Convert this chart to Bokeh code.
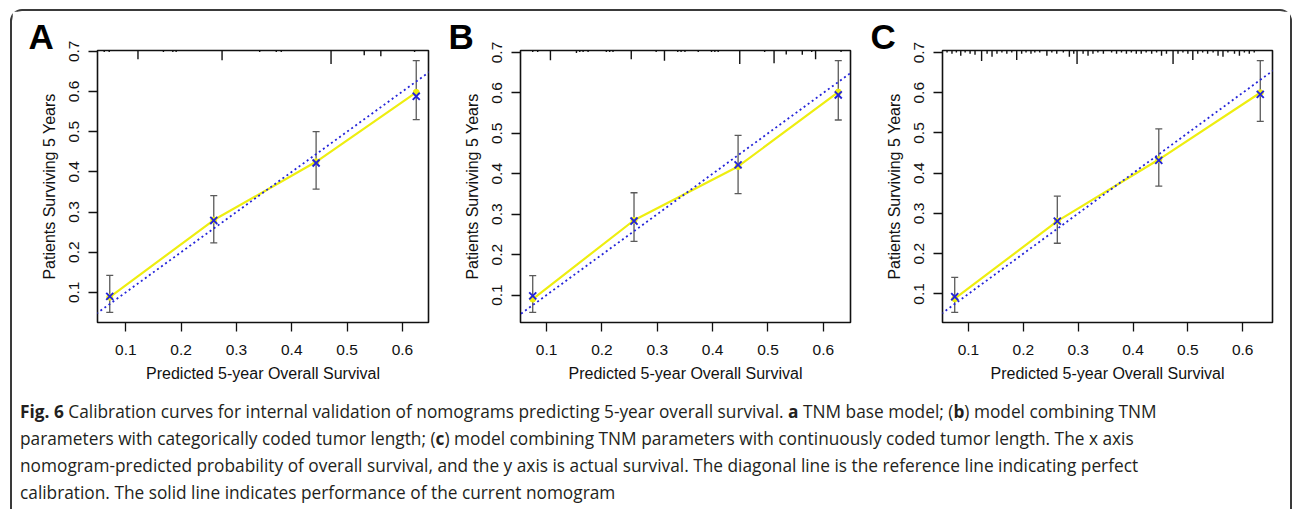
from bokeh.plotting import figure
from bokeh.models import (ColumnDataSource, FixedTicker, Range1d, Slope, Whisker,
                          TeeHead, Title, Div)
from bokeh.layouts import row, column
from bokeh.embed import file_html
from bokeh.resources import INLINE

# ---- data -------------------------------------------------------------
panel_labels = ["A", "B", "C"]
x_ticks = [0.1, 0.2, 0.3, 0.4, 0.5, 0.6]
y_ticks = [0.1, 0.2, 0.3, 0.4, 0.5, 0.6, 0.7]
x_title = "Predicted 5-year Overall Survival"
y_title = "Patients Surviving 5 Years"

# mean predicted survival per risk group
pred_a = [0.071, 0.259, 0.444, 0.625]
pred_b = [0.075, 0.258, 0.446, 0.627]
pred_c = [0.075, 0.262, 0.447, 0.632]

# apparent (observed) survival, drawn as the solid line
obs_a = [0.088, 0.280, 0.425, 0.598]
obs_b = [0.090, 0.285, 0.418, 0.602]
obs_c = [0.088, 0.281, 0.434, 0.600]

# bias-corrected estimates, drawn as crosses
corr_a = [0.090, 0.279, 0.422, 0.588]
corr_b = [0.098, 0.283, 0.422, 0.595]
corr_c = [0.093, 0.281, 0.432, 0.596]

# 95% confidence limits
lo_a = [0.050, 0.223, 0.357, 0.530]
hi_a = [0.142, 0.341, 0.500, 0.677]
lo_b = [0.057, 0.233, 0.351, 0.533]
hi_b = [0.148, 0.353, 0.495, 0.680]
lo_c = [0.054, 0.226, 0.368, 0.529]
hi_c = [0.141, 0.343, 0.510, 0.680]

# spike histogram of predicted probabilities (relative frequency)
spike_x_a = [0.061, 0.070, 0.122, 0.168, 0.185, 0.191, 0.274, 0.342, 0.372,
             0.381, 0.471, 0.531, 0.561, 0.622]
spike_n_a = [1.5, 1.5, 9, 1.5, 1.5, 1.5, 10, 1.5, 1.5, 1.5, 14, 5, 6, 1.5]

spike_x_b = [0.075, 0.084, 0.107, 0.154, 0.160, 0.166, 0.175, 0.208, 0.214,
             0.220, 0.253, 0.298, 0.313, 0.337, 0.343, 0.350, 0.374, 0.398,
             0.404, 0.410, 0.449, 0.494, 0.511, 0.533, 0.562, 0.579, 0.586,
             0.632]
spike_n_b = [1.5, 1.5, 10, 2.5, 1.5, 1.5, 1.5, 1.5, 1.5, 1.5, 9, 1.5, 10.5,
             1.5, 1.5, 1.5, 1.5, 1.5, 1.5, 1.5, 14, 1.5, 13, 4, 4.5, 1.5, 9,
             1.5]

spike_x_c = [0.061, 0.070, 0.078, 0.086, 0.094, 0.103, 0.112, 0.124, 0.134,
             0.143, 0.152, 0.161, 0.170, 0.179, 0.188, 0.197, 0.205, 0.214,
             0.221, 0.230, 0.243, 0.252, 0.261, 0.273, 0.284, 0.292, 0.298,
             0.309, 0.318, 0.327, 0.336, 0.346, 0.361, 0.370, 0.379, 0.388,
             0.397, 0.406, 0.415, 0.424, 0.434, 0.443, 0.452, 0.461, 0.473,
             0.482, 0.491, 0.500, 0.509, 0.518, 0.527, 0.536, 0.546, 0.555,
             0.564, 0.573, 0.585, 0.594, 0.603, 0.612, 0.621]
spike_n_c = [2, 3, 2, 5, 2, 3, 4, 10, 3, 6, 3, 2, 3, 2, 9, 3, 2, 3, 2, 2, 5,
             2, 3, 2, 6, 3, 13, 3, 5, 3, 2, 3, 2, 3, 2, 3, 2, 3, 3, 2, 3, 2,
             5, 3, 13, 3, 2, 3, 9, 3, 2, 3, 2, 5, 6, 2, 3, 5, 2, 3, 2]

panels = [
    (pred_a, obs_a, corr_a, lo_a, hi_a, spike_x_a, spike_n_a),
    (pred_b, obs_b, corr_b, lo_b, hi_b, spike_x_b, spike_n_b),
    (pred_c, obs_c, corr_c, lo_c, hi_c, spike_x_c, spike_n_c),
]

# ---- styling ------------------------------------------------------------
AX_FONT = "Liberation Sans"
YELLOW = "#eeee10"
BLUE = "#2424d8"
GREY = "#5a5a5a"
FRAME_W = [331, 330, 330]
LEFT_B = [85, 88, 88]
RIGHT_B = [4, 4, 18]
TOP_B, FRAME_H, BOTTOM_B = 39, 272, 76
LETTER_DX = [-69, -72, -72]


def padded(lo, hi, frac=0.04):
    span = hi - lo
    return lo - frac * span, hi + frac * span


def make_panel(i):
    pred, obs, corr, lo, hi, sx, sn = panels[i]
    x0, x1 = padded(min(pred), max(pred))
    y0, y1 = padded(min(lo), max(hi))
    height = TOP_B + FRAME_H + BOTTOM_B

    # panel letter as a left-aligned title shifted left of the frame
    letter = Title(text=panel_labels[i], align="left", offset=LETTER_DX[i],
                   text_font=AX_FONT, text_font_size="35px",
                   text_font_style="bold", text_color="#000000",
                   text_line_height=0.7, standoff=-11,
                   vertical_align="bottom")

    p = figure(width=LEFT_B[i] + FRAME_W[i] + RIGHT_B[i], height=height,
               x_range=Range1d(x0, x1), y_range=Range1d(y0, y1),
               title=letter,
               output_backend="svg", toolbar_location=None, tools="",
               min_border_left=LEFT_B[i], min_border_right=RIGHT_B[i],
               min_border_top=TOP_B, min_border_bottom=BOTTOM_B,
               background_fill_color="white", border_fill_color="white")
    p.grid.visible = False
    p.outline_line_color = "#111111"
    p.outline_line_width = 1.6
    p.outline_line_alpha = 1.0

    # spike histogram hanging from the top of the frame
    top_n = max(sn)
    spike_len = [n / top_n * 0.05 * (y1 - y0) for n in sn]
    p.segment(x0=sx, x1=sx, y0=[y1] * len(sx),
              y1=[y1 - s for s in spike_len],
              line_color="#111111", line_width=1.4)

    # ideal calibration diagonal
    p.add_layout(Slope(gradient=1, y_intercept=0, line_color=BLUE,
                       line_width=1.8, line_dash="2 3"))

    src = ColumnDataSource(dict(x=pred, obs=obs, corr=corr, lo=lo, hi=hi))
    p.line("x", "obs", source=src, line_color=YELLOW, line_width=2.2)
    p.scatter("x", "obs", source=src, marker="circle", size=6,
              fill_color=YELLOW, line_color=YELLOW)

    p.add_layout(Whisker(base="x", lower="lo", upper="hi", source=src,
                         dimension="height", line_color=GREY, line_width=1.3,
                         lower_head=TeeHead(size=7, line_color=GREY, line_width=1.3),
                         upper_head=TeeHead(size=7, line_color=GREY, line_width=1.3)))
    p.scatter("x", "corr", source=src, marker="x", size=10,
              line_color=BLUE, line_width=1.9)

    for ax, ticks in ((p.xaxis, x_ticks), (p.yaxis, y_ticks)):
        ax.ticker = FixedTicker(ticks=ticks)
        ax.minor_tick_line_color = None
        ax.major_tick_in = 0
        ax.major_tick_out = 9
        ax.major_tick_line_color = "#111111"
        ax.major_tick_line_width = 1.3
        ax.axis_line_color = None
        ax.major_label_text_font = AX_FONT
        ax.major_label_text_font_size = "15.5px"
        ax.major_label_text_color = "#111111"
        ax.axis_label_text_font = AX_FONT
        ax.axis_label_text_font_size = "16px"
        ax.axis_label_text_font_style = "normal"
        ax.axis_label_text_color = "#111111"
    p.xaxis.axis_label = x_title
    p.yaxis.axis_label = y_title
    p.xaxis.major_label_standoff = 13
    p.xaxis.axis_label_standoff = 7
    p.yaxis.major_label_orientation = "vertical"
    p.yaxis.major_label_standoff = 9
    p.yaxis.axis_label_standoff = 9
    return p


plots = [make_panel(i) for i in range(3)]

caption_html = (
    "<b>Fig. 6</b> Calibration curves for internal validation of nomograms "
    "predicting 5-year overall survival. <b>a</b> TNM base model; (<b>b</b>) "
    "model combining TNM<br>parameters with categorically coded tumor length; "
    "(<b>c</b>) model combining TNM parameters with continuously coded tumor "
    "length. The x axis<br>nomogram-predicted probability of overall survival, "
    "and the y axis is actual survival. The diagonal line is the reference line "
    "indicating perfect<br>calibration. The solid line indicates performance of "
    "the current nomogram"
)
caption = Div(text=caption_html, width=1270, height=130, margin=0,
              styles={"font-family": "'Open Sans'", "font-size": "17.3px",
                      "line-height": "27px", "color": "#231f20",
                      "white-space": "nowrap", "padding-left": "8px"})

page = column(row(*plots, spacing=0, margin=0), caption, spacing=0,
              margin=(9, 0, 0, 10),
              styles={"border": "2px solid #3a3a3a", "border-radius": "12px",
                      "background-color": "white"})

open("out.html", "w").write(file_html(page, INLINE))
